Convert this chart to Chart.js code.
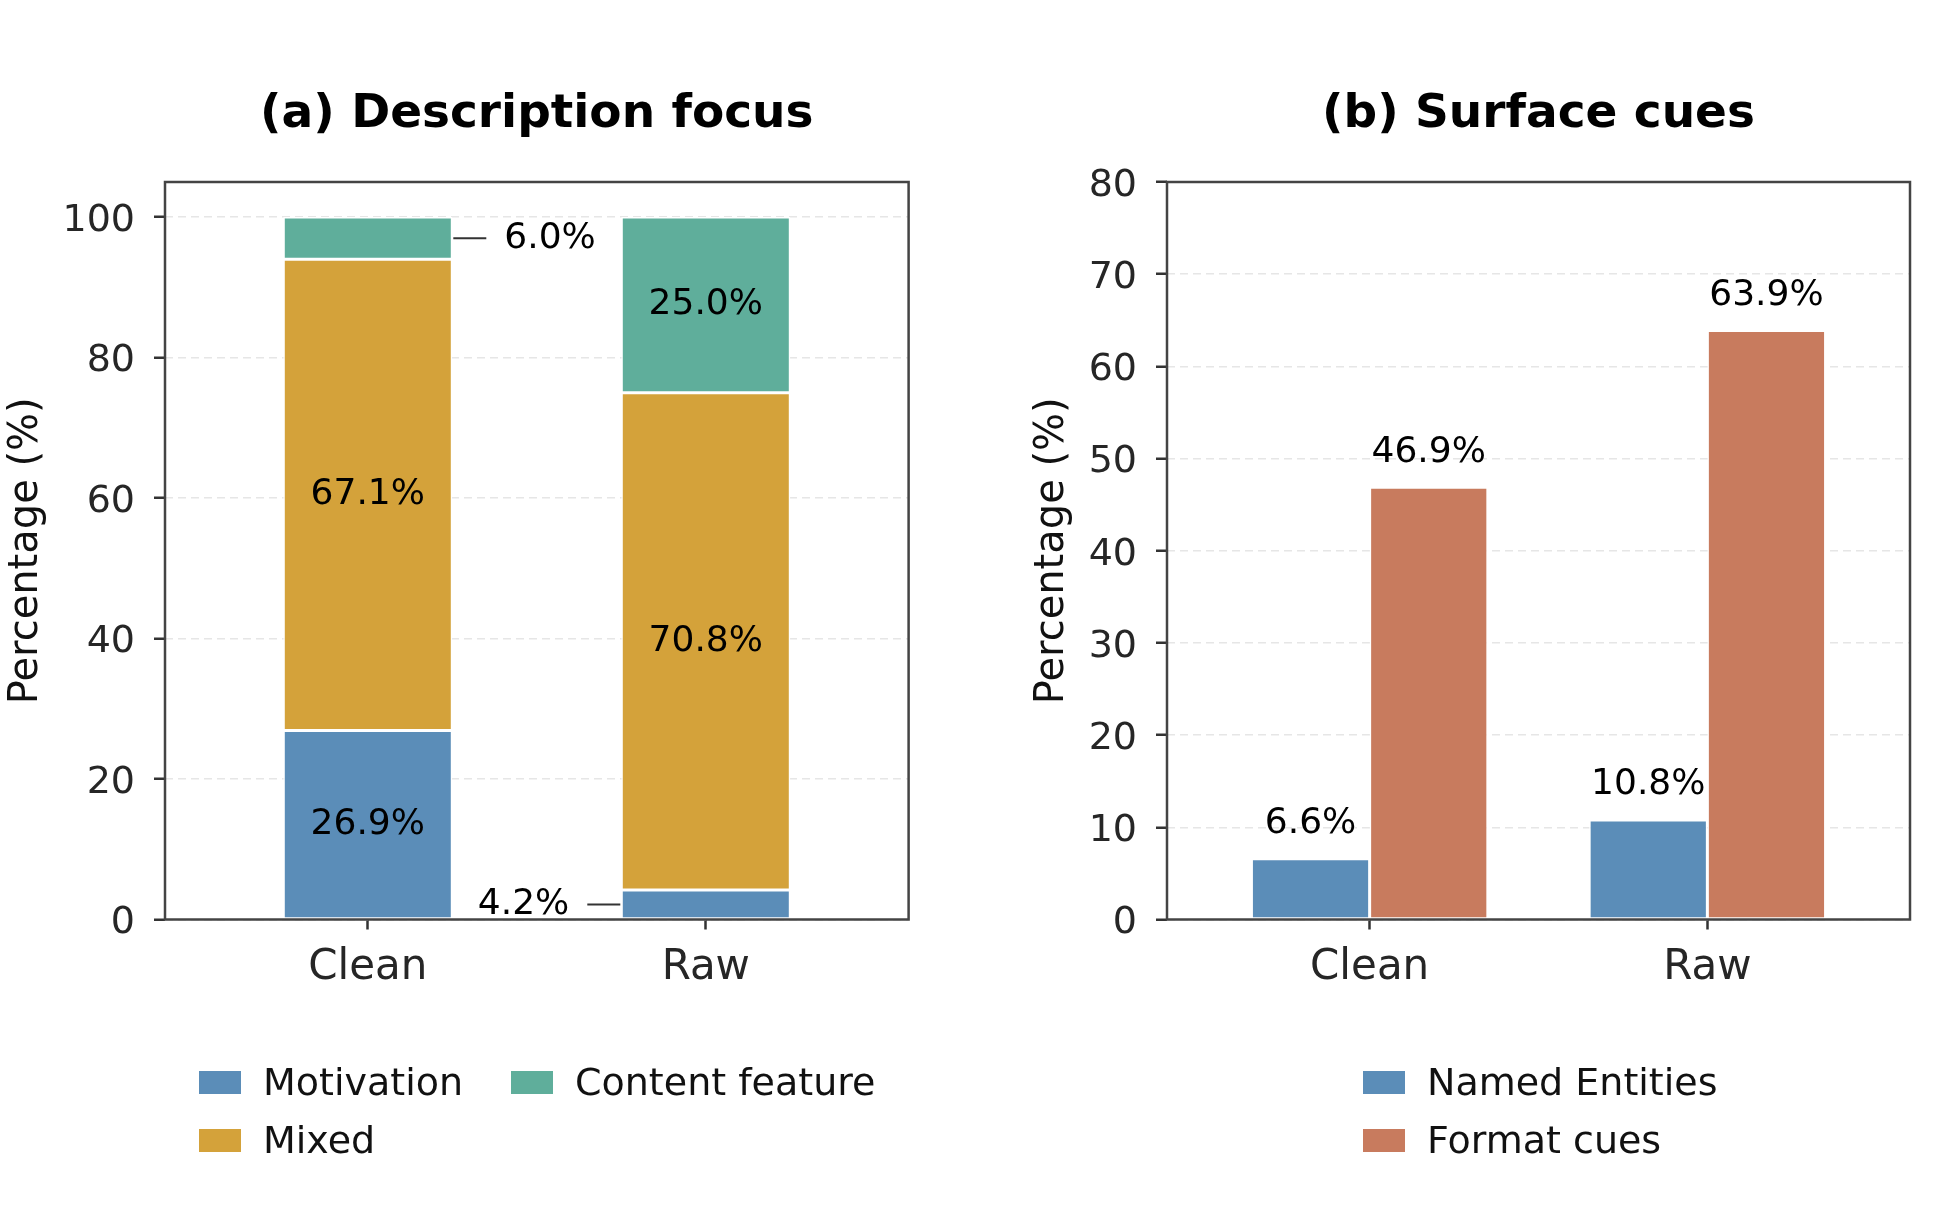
<!DOCTYPE html>
<html>
<head>
<meta charset="utf-8">
<script src="https://cdn.jsdelivr.net/npm/chart.js@4.4.1/dist/chart.umd.min.js"></script>
<style>
  body { margin: 0; background: #fff; }
  #wrap { position: relative; width: 1944px; height: 1224px; background: #fff; font-family: "DejaVu Sans", sans-serif; }
  .panel { position: absolute; top: 0; width: 972px; height: 1224px; }
  .leg { position: absolute; display: flex; align-items: center; font-size: 38px; color: #111; white-space: nowrap; }
  .leg span.box { display: inline-block; width: 42px; height: 23px; margin-right: 22px; }
</style>
</head>
<body>
<div id="wrap">
  <div class="panel" style="left:0"><canvas id="chartA" width="972" height="1224"></canvas></div>
  <div class="panel" style="left:972px"><canvas id="chartB" width="972" height="1224"></canvas></div>
</div>
<script>
const categories = ['Clean', 'Raw'];

// (a) description focus, stacked shares
const motivation = [26.9, 4.2];
const mixed = [67.1, 70.8];
const contentFeature = [6.0, 25.0];
const yTicksA = [0, 20, 40, 60, 80, 100];

// (b) surface cues
const namedEntities = [6.6, 10.8];
const formatCues = [46.9, 63.9];
const yTicksB = [0, 10, 20, 30, 40, 50, 60, 70, 80];

const FONT = '"DejaVu Sans", sans-serif';
const BLUE = '#5b8db8', GOLD = '#d4a23a', TEAL = '#5fae9b', CLAY = '#c87b5e';

function pts(arr) {
    return arr.map((v, i) => ({ x: i, y: v }));
}

// matplotlib-like box around the axes
const frame = {
    id: 'frame',
    afterDraw(chart) {
        const a = chart.chartArea, c = chart.ctx;
        c.save();
        c.strokeStyle = '#444';
        c.lineWidth = 2.5;
        c.strokeRect(a.left, a.top, a.right - a.left, a.bottom - a.top);
        c.restore();
    }
};

const stackLabels = {
    id: 'stackLabels',
    afterDatasetsDraw(chart) {
        const c = chart.ctx;
        c.save();
        c.font = '36px ' + FONT;
        c.fillStyle = '#000';
        c.strokeStyle = '#333';
        c.lineWidth = 2;
        c.textBaseline = 'middle';
        chart.data.datasets.forEach((ds, di) => {
            chart.getDatasetMeta(di).data.forEach((bar, i) => {
                const v = ds.data[i].y;
                const txt = v.toFixed(1) + '%';
                const cy = (bar.y + bar.base) / 2;
                if (v >= 8) {
                    c.textAlign = 'center';
                    c.fillText(txt, bar.x, cy);
                    return;
                }
                // small slice: leader line + label outside
                const half = bar.width / 2;
                const dir = i === 0 ? 1 : -1;
                const edge = bar.x + dir * half;
                c.beginPath();
                c.moveTo(edge + dir * 1, cy);
                c.lineTo(edge + dir * 34, cy);
                c.stroke();
                c.textAlign = dir > 0 ? 'left' : 'right';
                c.fillText(txt, edge + dir * 52, cy);
            });
        });
        c.restore();
    }
};

const topLabels = {
    id: 'topLabels',
    afterDatasetsDraw(chart) {
        const c = chart.ctx;
        c.save();
        c.font = '36px ' + FONT;
        c.fillStyle = '#000';
        c.textAlign = 'center';
        c.textBaseline = 'middle';
        chart.data.datasets.forEach((ds, di) => {
            chart.getDatasetMeta(di).data.forEach((bar, i) => {
                c.fillText(ds.data[i].y.toFixed(1) + '%', bar.x, bar.y - 35);
            });
        });
        c.restore();
    }
};

function xScale(stacked) {
    return {
        type: 'linear',
        min: -0.6,
        max: 1.6,
        stacked: stacked,
        offset: false,
        afterBuildTicks: s => { s.ticks = categories.map((_, i) => ({ value: i })); },
        afterFit: s => { s.height = 80; },
        ticks: {
            callback: v => categories[v] ?? '',
            font: { family: FONT, size: 42 },
            color: '#262626',
            padding: 13,
            maxRotation: 0
        },
        grid: { drawOnChartArea: false, offset: false, tickLength: 10, tickWidth: 2.5, tickColor: '#333' },
        border: { display: false }
    };
}

function yScale(max, tickVals, stacked, width) {
    return {
        min: 0,
        max: max,
        stacked: stacked,
        afterBuildTicks: s => { s.ticks = tickVals.map(v => ({ value: v })); },
        afterFit: s => { s.width = width; },
        ticks: { font: { family: FONT, size: 38 }, color: '#262626', padding: 19, labelOffset: 4 },
        grid: { color: '#e6e6e6', lineWidth: 1.5, tickLength: 11, tickWidth: 2.5, tickColor: '#333' },
        border: { display: false, dash: [8, 5] },
        title: {
            display: true,
            text: 'Percentage (%)',
            font: { family: FONT, size: 40 },
            color: '#111',
            padding: { top: 3, bottom: 0 }
        }
    };
}

function titleOpts(text) {
    return {
        display: true,
        text: text,
        fullSize: false,
        color: '#000',
        font: { family: FONT, size: 47, weight: 'bold' },
        padding: { top: 87, bottom: 38.6 }
    };
}

const barStyle = { borderColor: '#fff', borderWidth: 1.5, borderSkipped: false };

const chartA = new Chart(document.getElementById('chartA'), {
    type: 'bar',
    data: {
        datasets: [
            { label: 'Motivation', data: pts(motivation), backgroundColor: BLUE, ...barStyle },
            { label: 'Mixed', data: pts(mixed), backgroundColor: GOLD, ...barStyle },
            { label: 'Content feature', data: pts(contentFeature), backgroundColor: TEAL, ...barStyle }
        ]
    },
    options: {
        responsive: false,
        animation: false,
        barPercentage: 0.5,
        categoryPercentage: 1,
        layout: { padding: { left: 0, right: 63.4, top: 0, bottom: 224.5 } },
        scales: { x: xScale(true), y: yScale(105, yTicksA, true, 165) },
        plugins: { legend: { display: false }, tooltip: { enabled: false }, title: titleOpts('(a) Description focus') }
    },
    plugins: [stackLabels, frame]
});

const chartB = new Chart(document.getElementById('chartB'), {
    type: 'bar',
    data: {
        datasets: [
            { label: 'Named Entities', data: pts(namedEntities), backgroundColor: BLUE, ...barStyle },
            { label: 'Format cues', data: pts(formatCues), backgroundColor: CLAY, ...barStyle }
        ]
    },
    options: {
        responsive: false,
        animation: false,
        barPercentage: 1,
        categoryPercentage: 0.7,
        layout: { padding: { left: 53.5, right: 34, top: 0, bottom: 224.5 } },
        scales: { x: xScale(false), y: yScale(80, yTicksB, false, 141.5) },
        plugins: { legend: { display: false }, tooltip: { enabled: false }, title: titleOpts('(b) Surface cues') }
    },
    plugins: [topLabels, frame]
});

// legends, laid out like the original (column-wise)
function addLegend(chart, spots) {
    const wrap = document.getElementById('wrap');
    chart.data.datasets.forEach((ds, i) => {
        const d = document.createElement('div');
        d.className = 'leg';
        d.style.left = spots[i][0] + 'px';
        d.style.top = (spots[i][1] - 24) + 'px';
        d.style.height = '48px';
        d.innerHTML = '<span class="box" style="background:' + ds.backgroundColor + '"></span>' + ds.label;
        wrap.appendChild(d);
    });
}
addLegend(chartA, [[199, 1082], [199, 1140], [511, 1082]]);
addLegend(chartB, [[1363, 1082], [1363, 1140]]);
</script>
</body>
</html>
